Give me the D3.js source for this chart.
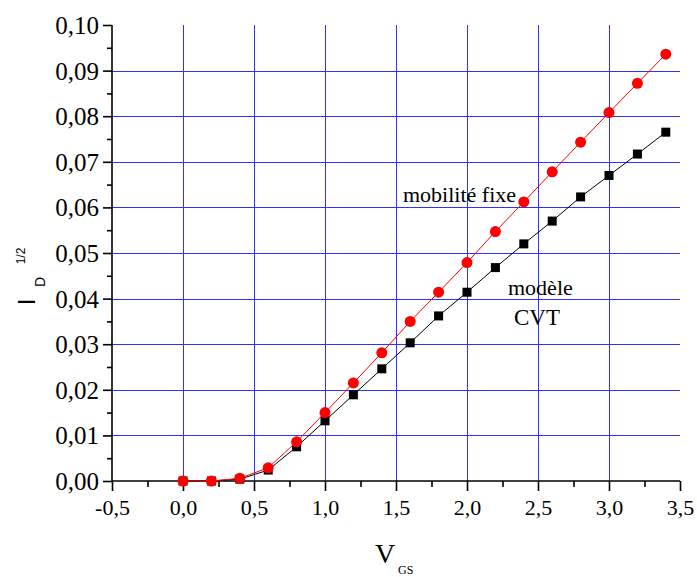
<!DOCTYPE html>
<html><head><meta charset="utf-8">
<script src="https://cdn.jsdelivr.net/npm/d3@7"></script>
<style>body{margin:0;background:#fff}svg{display:block}</style>
</head><body>
<svg id="c" width="697" height="577"></svg>
<script>
const vgs = [0,0.2,0.4,0.6,0.8,1.0,1.2,1.4,1.6,1.8,2.0,2.2,2.4,2.6,2.8,3.0,3.2,3.4];
const mobiliteFixe = [0,0,0.0006,0.0029,0.0086,0.0150,0.0215,0.0281,0.0350,0.0414,0.0479,0.0547,0.0612,0.0678,0.0743,0.0808,0.0872,0.0936];
const modeleCVT = [0,0,0.0004,0.0024,0.0075,0.0132,0.0189,0.0246,0.0303,0.0362,0.0414,0.0468,0.0520,0.0570,0.0623,0.0670,0.0717,0.0765];
const xTicks = [-0.5,0,0.5,1.0,1.5,2.0,2.5,3.0,3.5];
const yTicks = [0,0.01,0.02,0.03,0.04,0.05,0.06,0.07,0.08,0.09,0.10];
const xGrid = [0,0.5,1.0,1.5,2.0,2.5,3.0];
const yGrid = [0.01,0.02,0.03,0.04,0.05,0.06,0.07,0.08,0.09];

const svg = d3.select("#c");
const L=112, R=680, T=25, B=481;
const x = d3.scaleLinear().domain([-0.5,3.5]).range([L,R]);
const y = d3.scaleLinear().domain([0,0.10]).range([B,T]);
const fmt = d => d3.format(".1f")(d).replace(".",",").replace("\u2212","-");
const fmtY = d => d3.format(".2f")(d).replace(".",",");
const serif = "Liberation Serif, Times New Roman, serif";
const sans = "Liberation Sans, Arial, sans-serif";

// grid
const g = svg.append("g");
g.selectAll(".vg").data(xGrid).join("line")
  .attr("x1",d=>Math.round(x(d))+0.5).attr("x2",d=>Math.round(x(d))+0.5)
  .attr("y1",T).attr("y2",B).attr("stroke","#3030ff").attr("stroke-width",1);
g.selectAll(".hg").data(yGrid).join("line")
  .attr("y1",d=>Math.round(y(d))+0.5).attr("y2",d=>Math.round(y(d))+0.5)
  .attr("x1",L).attr("x2",R).attr("stroke","#3030ff").attr("stroke-width",1);

// axes
const xMinor = d3.range(-0.25,3.5,0.5);
const yMinor = d3.range(0.005,0.1,0.01);
const xAxis = svg.append("g").attr("transform",`translate(0,${B})`)
  .call(d3.axisBottom(x).tickValues(xTicks).tickFormat(fmt).tickSize(10).tickPadding(8));
svg.append("g").attr("transform",`translate(0,${B})`)
  .call(d3.axisBottom(x).tickValues(xMinor).tickFormat("").tickSize(6))
  .call(s=>s.select(".domain").remove());
const yAxis = svg.append("g").attr("transform",`translate(${L},0)`)
  .call(d3.axisLeft(y).tickValues(yTicks).tickFormat(fmtY).tickSize(9).tickPadding(4));
svg.append("g").attr("transform",`translate(${L},0)`)
  .call(d3.axisLeft(y).tickValues(yMinor).tickFormat("").tickSize(5))
  .call(s=>s.select(".domain").remove());
svg.selectAll(".domain").attr("stroke","#000").attr("stroke-width",1.6);
svg.selectAll(".tick line").attr("stroke","#000").attr("stroke-width",1.6);
xAxis.selectAll("text").style("font-family",serif).style("font-size","22px").attr("fill","#000");
yAxis.selectAll("text").style("font-family",serif).style("font-size","25px").attr("fill","#000").attr("dy","0.34em");
xAxis.select(".domain").attr("d",`M${L},0H${R}`);
yAxis.select(".domain").attr("d",`M0,${B}V${T}`);

// series
const line = d3.line().x(d=>x(d[0])).y(d=>y(d[1]));
const cvt = vgs.map((v,i)=>[v,modeleCVT[i]]);
const mob = vgs.map((v,i)=>[v,mobiliteFixe[i]]);
svg.append("path").datum(cvt).attr("d",line).attr("fill","none").attr("stroke","#000").attr("stroke-width",1);
svg.selectAll(".sq").data(cvt).join("rect")
  .attr("x",d=>x(d[0])-4.5).attr("y",d=>y(d[1])-4.5).attr("width",9).attr("height",9).attr("fill","#000");
svg.append("path").datum(mob).attr("d",line).attr("fill","none").attr("stroke","#ff0000").attr("stroke-width",1);
svg.selectAll(".ci").data(mob).join("circle")
  .attr("cx",d=>x(d[0])).attr("cy",d=>y(d[1])).attr("r",5.5).attr("fill","#ff0000");

// annotations
const txt = (xx,yy,size,fam,s) => svg.append("text").attr("x",xx).attr("y",yy)
  .style("font-family",fam).style("font-size",size+"px").attr("fill","#000").text(s);
txt(403,202,22,serif,"mobilité fixe");
txt(508,295,22,serif,"modèle");
txt(514,325,23,serif,"CVT");

// x title
txt(375,563,28,serif,"V");
txt(398,574,12,serif,"GS");

// y title
const rt = (xx,yy,size,s) => svg.append("text").attr("transform",`translate(${xx},${yy}) rotate(-90)`)
  .attr("text-anchor","middle").style("font-family",sans).style("font-size",size+"px").attr("fill","#000").text(s);
rt(35,302,24,"I");
rt(45,282,14,"D");
rt(25,256,12,"1/2");
</script>
</body></html>
